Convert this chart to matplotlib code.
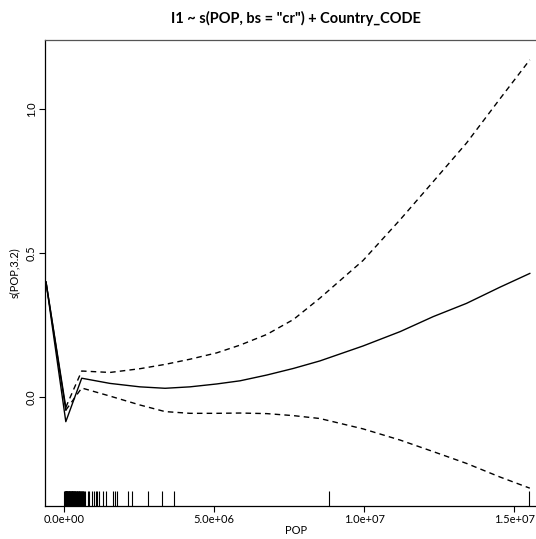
import numpy as np
import matplotlib
matplotlib.use("Agg")
import matplotlib.pyplot as plt

plt.rcParams['font.family'] = ['Lato', 'DejaVu Sans']

# smooth term s(POP, 3.2) (POP in millions)
pop_grid = [-0.61, 0.05, 0.58, 1.52, 2.52, 3.36, 4.19, 5.08, 5.86, 6.75,
            7.64, 8.52, 9.96, 11.2, 12.3, 13.41, 14.52, 15.52]
fit = [0.400, -0.085, 0.066, 0.048, 0.036, 0.031, 0.036, 0.046, 0.057, 0.077,
       0.100, 0.126, 0.178, 0.228, 0.280, 0.326, 0.382, 0.430]
upper = [0.400, -0.035, 0.091, 0.086, 0.099, 0.114, 0.132, 0.154, 0.181, 0.218,
         0.270, 0.344, 0.475, 0.617, 0.749, 0.883, 1.036, 1.172]
lower = [0.400, -0.045, 0.032, 0.004, -0.027, -0.050, -0.056, -0.056, -0.055, -0.057,
         -0.064, -0.074, -0.110, -0.149, -0.189, -0.230, -0.277, -0.316]

# observed POP values (millions) for the rug
rug_pop = [0.005, 0.015, 0.02, 0.03, 0.04, 0.045, 0.055, 0.06, 0.07, 0.08, 0.085,
           0.095, 0.1, 0.11, 0.12, 0.13, 0.14, 0.15, 0.16, 0.17, 0.18, 0.19, 0.2,
           0.21, 0.22, 0.23, 0.24, 0.25, 0.26, 0.27, 0.28, 0.29, 0.3, 0.31, 0.32,
           0.335, 0.35, 0.36, 0.37, 0.385, 0.4, 0.41, 0.42, 0.435, 0.45, 0.465,
           0.48, 0.49, 0.5, 0.515, 0.53, 0.545, 0.56, 0.58, 0.6, 0.615, 0.63,
           0.66, 0.7,
           0.78, 0.83, 0.93, 1.0, 1.05, 1.1, 1.17, 1.28, 1.38, 1.63, 1.69, 1.77,
           2.14, 2.25, 2.80, 3.25, 3.65, 8.83, 15.49]

x_ticks = [0.0, 5.0, 10.0, 15.0]
x_tick_labels = ['0.0e+00', '5.0e+06', '1.0e+07', '1.5e+07']
y_ticks = [0.0, 0.5, 1.0]
y_tick_labels = ['0.0', '0.5', '1.0']

pop_grid = np.array(pop_grid) * 1e6
rug_pop = np.array(rug_pop) * 1e6

fig = plt.figure(figsize=(5.36, 5.39), dpi=100)
# axes run past the right edge of the image, as in the reference
ax = fig.add_axes([0.084, 0.0612, 0.938, 0.8646])

ax.plot(pop_grid, fit, color='black', lw=1.0)
for ci in (upper, lower):
    # first stretch looks solid in the reference, the rest is dashed
    ax.plot(pop_grid[:2], ci[:2], color='black', lw=1.0)
    ax.plot(pop_grid[1:], ci[1:], color='black', lw=1.0, dashes=(4, 3))

ax.set_xlim(-0.643e6, 16.12e6)
ax.set_ylim(-0.378, 1.241)

# rug along the bottom
trans = ax.get_xaxis_transform()
ax.vlines(rug_pop, 0, 0.032, transform=trans, color='black', lw=0.8)

ax.set_xticks(np.array(x_ticks) * 1e6)
ax.set_xticklabels(x_tick_labels)
ax.set_yticks(y_ticks)
ax.set_yticklabels(y_tick_labels, rotation=90, va='center')
ax.tick_params(labelsize=8, length=4, width=0.8, color='black', pad=2)

for side in ('left', 'bottom', 'top', 'right'):
    ax.spines[side].set_linewidth(0.9)
ax.spines['top'].set_color('#555555')

ax.set_xlabel('POP', fontsize=8, labelpad=0)
ax.set_ylabel('s(POP,3.2)', fontsize=8, labelpad=4)
ax.set_title('I1 ~ s(POP, bs = "cr") + Country_CODE', fontsize=10.5,
             fontweight='bold', pad=12)

fig.savefig('out.png', dpi=100)
